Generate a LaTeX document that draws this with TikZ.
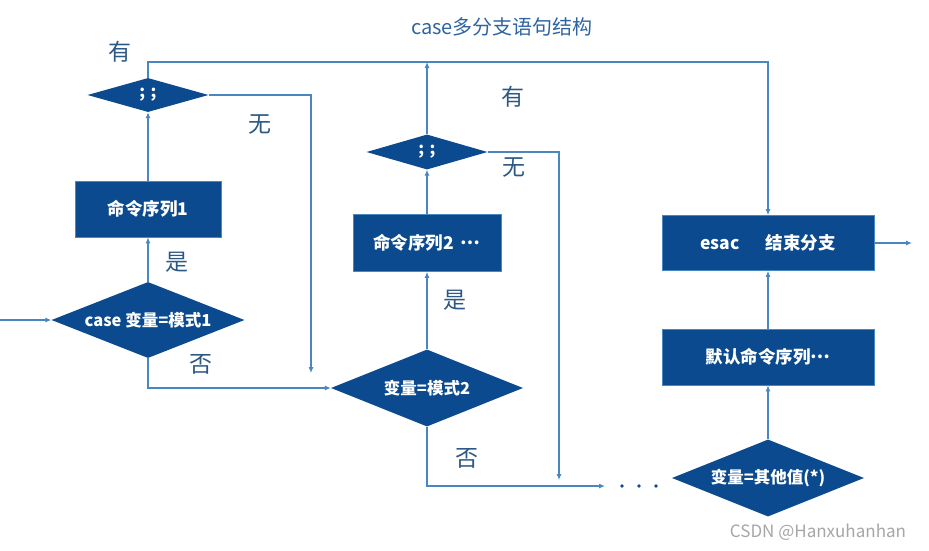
\documentclass[tikz,border=0pt]{standalone}
\usepackage{fontspec}
\setmainfont{Noto Sans CJK SC}
\usetikzlibrary{shapes.geometric,arrows.meta}
\definecolor{boxblue}{RGB}{11,74,142}
\definecolor{lineblue}{RGB}{74,134,192}
\definecolor{lblblue}{RGB}{44,88,132}
\definecolor{ttlblue}{RGB}{46,100,160}
\newcommand{\mdots}{\raisebox{0.3em}{…}}
\begin{document}
\begin{tikzpicture}[x=1pt,y=-1pt,
  conn/.style={draw=lineblue,line width=1.1pt},
  arr/.style={conn,-{Latex[length=6pt,width=5pt]}},
  rbox/.style={rectangle,fill=boxblue,draw=lineblue,line width=0.6pt,text=white,font=\fontsize{17.5}{19}\selectfont\bfseries,inner sep=0pt},
  dia/.style={diamond,fill=boxblue,text=white,font=\fontsize{16.5}{18}\selectfont\bfseries,inner sep=0pt},
  lbl/.style={text=lblblue,font=\fontsize{23}{25}\selectfont},
]
\useasboundingbox (0,0) rectangle (929,550);
\node[font=\fontsize{20}{22}\selectfont,text=ttlblue] (title) at (502,27) {case多分支语句结构};

% nodes
\node[dia,minimum width=121pt,minimum height=34pt] (s1) at (148,95) {\makebox[0pt]{;\,\,;}};
\node[rbox,minimum width=146pt,minimum height=56pt] (b1) at (148,209) {命令序列1};
\node[dia,minimum width=193pt,minimum height=76pt] (c1) at (148,320) {\makebox[0pt]{case 变量=模式1}};
\node[dia,minimum width=121pt,minimum height=35pt] (s2) at (427,152) {\makebox[0pt]{;\,\,;}};
\node[rbox,minimum width=148pt,minimum height=57pt] (b2) at (427,243) {命令序列2 \,\mdots};
\node[dia,minimum width=192pt,minimum height=77pt] (c2) at (427,388) {\makebox[0pt]{变量=模式2}};
\node[rbox,minimum width=212pt,minimum height=55pt] (es) at (768,243) {esac\hspace{1.5em}结束分支};
\node[rbox,minimum width=212pt,minimum height=56pt] (df) at (768,357) {默认命令序列\mdots};
\node[dia,minimum width=192pt,minimum height=77pt] (c3) at (768,478) {\makebox[0pt]{变量=其他值(*)}};

% labels
\node[lbl] (y1) at (120,52) {有};
\node[lbl] (n1) at (260,125) {无};
\node[lbl] (t1) at (177,262) {是};
\node[lbl] (f1) at (201,364) {否};
\node[lbl] (y2) at (513,97) {有};
\node[lbl] (n2) at (514,168) {无};
\node[lbl] (t2) at (455,300) {是};
\node[lbl] (f2) at (467,458) {否};
\node[text=gray!70,font=\fontsize{17}{19}\selectfont] (wm) at (818,532) {CSDN @Hanxuhanhan};

% coordinates
\coordinate (in) at (0,320);
\coordinate (top1) at (148,62);
\coordinate (top2) at (768,62);
\coordinate (top3) at (427,62);
\coordinate (r1) at (311,95);
\coordinate (r1e) at (311,373);
\coordinate (l1) at (148,388);
\coordinate (r2) at (559,152);
\coordinate (r2e) at (559,480);
\coordinate (l2) at (427,486);
\coordinate (l2e) at (605,486);
\coordinate (out) at (912,243);

% connectors
\draw[arr] (in) -- (c1.west);
\draw[arr] (c1.north) -- (b1.south);
\draw[arr] (b1.north) -- (s1.south);
\draw[arr] (s1.north) -- (top1) -- (top2) -- (es.north);
\draw[arr] (s1.east) -- (r1) -- (r1e);
\draw[arr] (c1.south) -- (l1) -- (c2.west);
\draw[arr] (c2.north) -- (b2.south);
\draw[arr] (b2.north) -- (s2.south);
\draw[arr] (s2.north) -- (top3);
\draw[arr] (s2.east) -- (r2) -- (r2e);
\draw[arr] (c2.south) -- (l2) -- (l2e);
\draw[arr] (c3.north) -- (df.south);
\draw[arr] (df.north) -- (es.south);
\draw[arr] (es.east) -- (out);

% dots
\foreach \x in {622,639,656} \fill[boxblue] (\x,486) circle (1.8pt);
\end{tikzpicture}
\end{document}
